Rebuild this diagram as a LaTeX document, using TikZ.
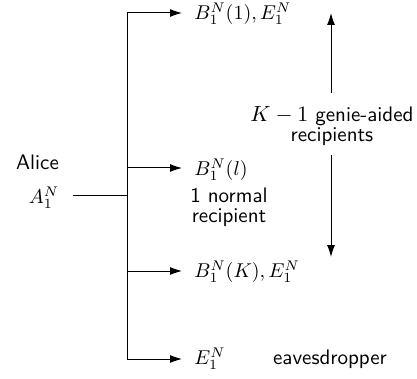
\documentclass[tikz,border=0pt]{standalone}
\usetikzlibrary{arrows.meta}
\begin{document}
\begin{tikzpicture}[x=0.5pt,y=-0.5pt,
  lbl/.style={inner sep=0pt,font=\fontsize{10.5}{9.8}\selectfont\sffamily},
  rcv/.style={inner sep=0pt,anchor=west},
  wire/.style={line width=0.5pt},
  arr/.style={wire,-{Latex[length=6pt,width=4pt]}}]
\useasboundingbox (0,0) rectangle (417,379);
% trunk
\coordinate (in) at (73,196);
\coordinate (j) at (127,196);
\coordinate (t1) at (127,13);
\coordinate (t2) at (127,168);
\coordinate (t3) at (127,271);
\coordinate (t4) at (127,359);
\coordinate (e1) at (182,13);
\coordinate (e2) at (182,168);
\coordinate (e3) at (182,271);
\coordinate (e4) at (182,359);
\draw[wire] (in) -- (j);
\draw[wire] (t1) -- (t4);
\draw[arr] (t1) -- (e1);
\draw[arr] (t2) -- (e2);
\draw[arr] (t3) -- (e3);
\draw[arr] (t4) -- (e4);
% labels
\node[lbl] (alice) at (37.5,162) {Alice};
\node[inner sep=0pt] (a) at (44,198) {$A_1^N$};
\node[rcv] (b1) at (194,14) {$B_1^N(1), E_1^N$};
\node[rcv] (bl) at (194,170) {$B_1^N(l)$};
\node[lbl,align=center] (norm) at (229,207) {1 normal\\recipient};
\node[rcv] (bk) at (194,272) {$B_1^N(K), E_1^N$};
\node[rcv] (e) at (194,359) {$E_1^N$};
\node[lbl] (eav) at (330,359) {eavesdropper};
\node[lbl,align=center] (gen) at (332,126) {$K-1$ genie-aided\\recipients};
\coordinate (u1) at (331,93);
\coordinate (u2) at (331,13);
\coordinate (d1) at (331,155);
\coordinate (d2) at (331,257);
\draw[arr] (u1) -- (u2);
\draw[arr] (d1) -- (d2);
\end{tikzpicture}
\end{document}
